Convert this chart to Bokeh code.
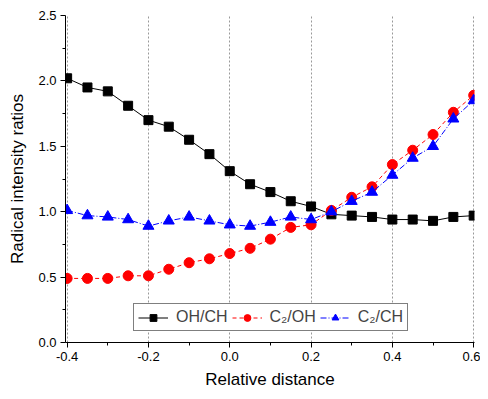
from bokeh.plotting import figure
from bokeh.models import FixedTicker, NumeralTickFormatter, Range1d, Legend, LegendItem
from bokeh.embed import file_html
from bokeh.resources import INLINE

x = [-0.4, -0.35, -0.3, -0.25, -0.2, -0.15, -0.1, -0.05, 0.0, 0.05, 0.1,
     0.15, 0.2, 0.25, 0.3, 0.35, 0.4, 0.45, 0.5, 0.55, 0.6]
oh_ch = [2.02, 1.95, 1.92, 1.81, 1.70, 1.65, 1.55, 1.44, 1.31, 1.21, 1.15,
         1.08, 1.04, 0.98, 0.97, 0.96, 0.94, 0.94, 0.93, 0.96, 0.97]
c2_oh = [0.49, 0.49, 0.49, 0.51, 0.51, 0.56, 0.61, 0.64, 0.68, 0.72, 0.79,
         0.88, 0.90, 1.01, 1.11, 1.19, 1.36, 1.47, 1.59, 1.76, 1.89]
c2_ch = [1.01, 0.97, 0.96, 0.94, 0.89, 0.93, 0.96, 0.93, 0.90, 0.89, 0.92,
         0.96, 0.94, 1.00, 1.08, 1.15, 1.28, 1.41, 1.50, 1.71, 1.85]
x_ticks = [-0.4, -0.2, 0.0, 0.2, 0.4, 0.6]
x_minor = [-0.3, -0.1, 0.1, 0.3, 0.5]
y_ticks = [0.0, 0.5, 1.0, 1.5, 2.0, 2.5]
y_minor = [0.25, 0.75, 1.25, 1.75, 2.25]
labels = ["OH/CH", "C\u2082/OH", "C\u2082/CH"]

FONT = "Liberation Sans"

p = figure(width=480, height=391, output_backend="svg", toolbar_location=None,
           x_range=Range1d(-0.404, 0.602), y_range=Range1d(0, 2.5),
           min_border_left=65, min_border_right=6, min_border_top=15, min_border_bottom=47)
p.outline_line_color = None
p.background_fill_color = "white"

l1 = p.line(x, oh_ch, line_color="black", line_width=1)
s1 = p.scatter(x, oh_ch, marker="square", size=9, fill_color="black", line_color="black")
l2 = p.line(x, c2_oh, line_color="red", line_width=1, line_dash="4 3")
s2 = p.scatter(x, c2_oh, marker="circle", size=10, fill_color="red", line_color="red")
l3 = p.line(x, c2_ch, line_color="blue", line_width=1, line_dash="6 2 1 2")
s3 = p.scatter(x, c2_ch, marker="triangle", size=11, fill_color="blue", line_color="blue")

p.xgrid.ticker = FixedTicker(ticks=x_ticks)
p.xgrid.grid_line_color = "#999999"
p.xgrid.grid_line_dash = "2 2"
p.ygrid.grid_line_color = None

for ax in (p.xaxis[0], p.yaxis[0]):
    ax.axis_line_color = "black"
    ax.major_tick_line_color = "black"
    ax.minor_tick_line_color = "black"
    ax.major_tick_out = 5
    ax.major_tick_in = 0
    ax.minor_tick_out = 3
    ax.minor_tick_in = 0
    ax.major_label_text_font = FONT
    ax.major_label_text_font_size = "13px"
    ax.major_label_text_color = "black"
    ax.axis_label_text_font = FONT
    ax.axis_label_text_font_size = "17px"
    ax.axis_label_text_font_style = "normal"
    ax.axis_label_text_color = "black"
    ax.formatter = NumeralTickFormatter(format="0.0")

p.xaxis.ticker = FixedTicker(ticks=x_ticks, minor_ticks=x_minor)
p.yaxis.ticker = FixedTicker(ticks=y_ticks, minor_ticks=y_minor)
p.xaxis.axis_label = "Relative distance"
p.yaxis.axis_label = "Radical intensity ratios"
p.xaxis.major_label_standoff = 4
p.yaxis.major_label_standoff = 4
p.xaxis.axis_label_standoff = 6
p.yaxis.axis_label_standoff = 8

legend = Legend(items=[LegendItem(label=labels[0], renderers=[l1, s1]),
                       LegendItem(label=labels[1], renderers=[l2, s2]),
                       LegendItem(label=labels[2], renderers=[l3, s3])],
                orientation="horizontal", location=(68, 11))
legend.border_line_color = "black"
legend.border_line_width = 1
legend.background_fill_alpha = 1
legend.label_text_font = FONT
legend.label_text_font_size = "16px"
legend.glyph_width = 30
legend.glyph_height = 17
legend.label_standoff = 8
legend.spacing = 4
legend.padding = 4
legend.margin = 0
legend.label_height = 17
p.add_layout(legend, "center")

open("out.html", "w").write(file_html(p, INLINE))
